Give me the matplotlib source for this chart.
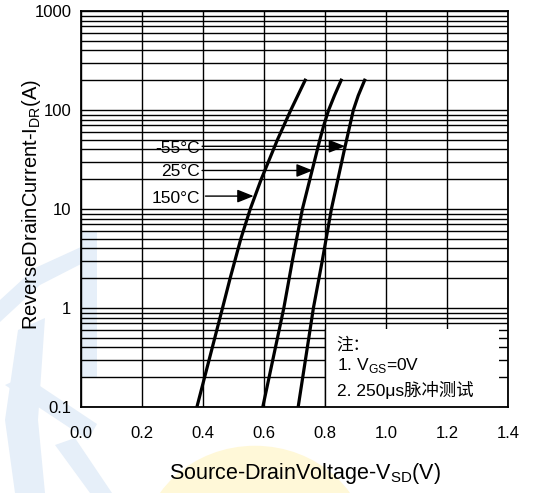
import matplotlib
matplotlib.use("Agg")
import matplotlib.pyplot as plt
from matplotlib.patches import Rectangle, Circle, Polygon

plt.rcParams['font.family'] = ['Liberation Sans', 'Noto Sans CJK SC', 'DejaVu Sans']

# curves: (V_SD, I_DR)
temps = ["-55°C", "25°C", "150°C"]
v_m55 = [0.712, 0.762, 0.791, 0.821, 0.866, 0.893, 0.909, 0.930]
i_m55 = [0.1, 1, 3, 10, 43, 100, 140, 200]
v_25 = [0.596, 0.665, 0.693, 0.726, 0.757, 0.783, 0.796, 0.812, 0.831, 0.853]
i_25 = [0.1, 1, 3, 10, 24, 50, 70, 100, 140, 200]
v_150 = [0.380, 0.464, 0.489, 0.524, 0.555, 0.591, 0.644, 0.688, 0.735]
i_150 = [0.1, 1, 2, 5, 10, 20, 50, 100, 200]

# arrow labels: text position, arrow height and arrow tip
label_v = [0.39, 0.39, 0.39]
label_i = [40.8, 24, 12.9]
arrow_i = [43, 24.5, 13.5]
start_v = [0.397, 0.397, 0.408]
tip_v = [0.866, 0.760, 0.566]

xticks = [0.0, 0.2, 0.4, 0.6, 0.8, 1.0, 1.2, 1.4]
yticks = [0.1, 1, 10, 100, 1000]
ytick_labels = ["0.1", "1", "10", "100", "1000"]

W, H = 534, 493
fig = plt.figure(figsize=(W / 100, H / 100), dpi=100)


def px(pts):
    return [(x / W, 1 - y / H) for x, y in pts]


# faint watermark behind everything
blue = "#e6eff9"
fig.patches.append(Circle((255 / W, 1 - 551 / H), 114 / W, transform=fig.transFigure,
                          facecolor="#fff8d8", edgecolor="none", zorder=-10))
for pts in [
    [(81, 232), (97, 232), (97, 377), (81, 377)],
    [(0, 300), (35, 268), (81, 247), (81, 264), (40, 285), (0, 322)],
    [(18, 330), (45, 318), (38, 420), (45, 493), (15, 493), (5, 420)],
    [(5, 385), (25, 376), (97, 424), (88, 440)],
    [(55, 445), (75, 438), (112, 493), (90, 493)],
]:
    fig.patches.append(Polygon(px(pts), closed=True, transform=fig.transFigure,
                               facecolor=blue, edgecolor="none", zorder=-10))

ax = fig.add_axes([81 / W, 1 - 407 / H, 427 / W, 396 / H])
ax.set_facecolor("none")

ax.set_yscale("log")
ax.set_xlim(0, 1.4)
ax.set_ylim(0.1, 1000)

ax.set_xticks(xticks)
ax.set_xticklabels([f"{t:.1f}" for t in xticks])
ax.set_yticks(yticks)
ax.set_yticklabels(ytick_labels)
ax.tick_params(axis="both", which="both", length=0, labelsize=12)
ax.tick_params(axis="x", pad=14)
ax.tick_params(axis="y", pad=7)

ax.grid(True, which="major", color="black", lw=1.0)
ax.grid(True, which="minor", axis="y", color="black", lw=1.0)
ax.set_axisbelow(True)
for sp in ax.spines.values():
    sp.set_linewidth(1.3)

# note box hides the grid in the lower right
ax.add_patch(Rectangle((0.8, 0.1), 0.572, 0.51, facecolor="white",
                       edgecolor="none", zorder=1.5))
ax.axvline(0.8, ymin=0, ymax=0.198, color="black", lw=1.0, zorder=1.6)

for v, i in [(v_m55, i_m55), (v_25, i_25), (v_150, i_150)]:
    ax.plot(v, i, color="black", lw=2.3, zorder=3, solid_joinstyle="round")

for name, lv, li, ai, sv, tv in zip(temps, label_v, label_i, arrow_i, start_v, tip_v):
    ax.text(lv, li, name, ha="right", va="center", fontsize=12.5, zorder=4)
    ax.annotate("", xy=(tv, ai), xytext=(sv, ai),
                arrowprops=dict(arrowstyle="-|>,head_length=0.5,head_width=0.2",
                                color="black", lw=1.0, mutation_scale=20,
                                shrinkA=0, shrinkB=0),
                zorder=4)

ax.text(0.838, 0.42, "注：", fontsize=12, va="center", zorder=4,
        family=['Noto Sans CJK SC', 'DejaVu Sans'])
ax.text(0.838, 0.26, "1. V$_{\\mathregular{GS}}$=0V", fontsize=12.5,
        va="center", zorder=4)
ax.text(0.838, 0.148, "2. 250μs脉冲测试", fontsize=12.5, va="center",
        zorder=4, family=['Liberation Sans', 'Noto Sans CJK SC', 'DejaVu Sans'])

fig.text(32 / W, 1 - 204 / H, "ReverseDrainCurrent-I$_{\\mathregular{DR}}$(A)",
         rotation=90, ha="center", va="center", fontsize=14.5)
fig.text(305 / W, 1 - 474 / H, "Source-DrainVoltage-V$_{\\mathregular{SD}}$(V)",
         ha="center", va="center", fontsize=15.5)

fig.savefig("out.png", dpi=100, facecolor="white")
